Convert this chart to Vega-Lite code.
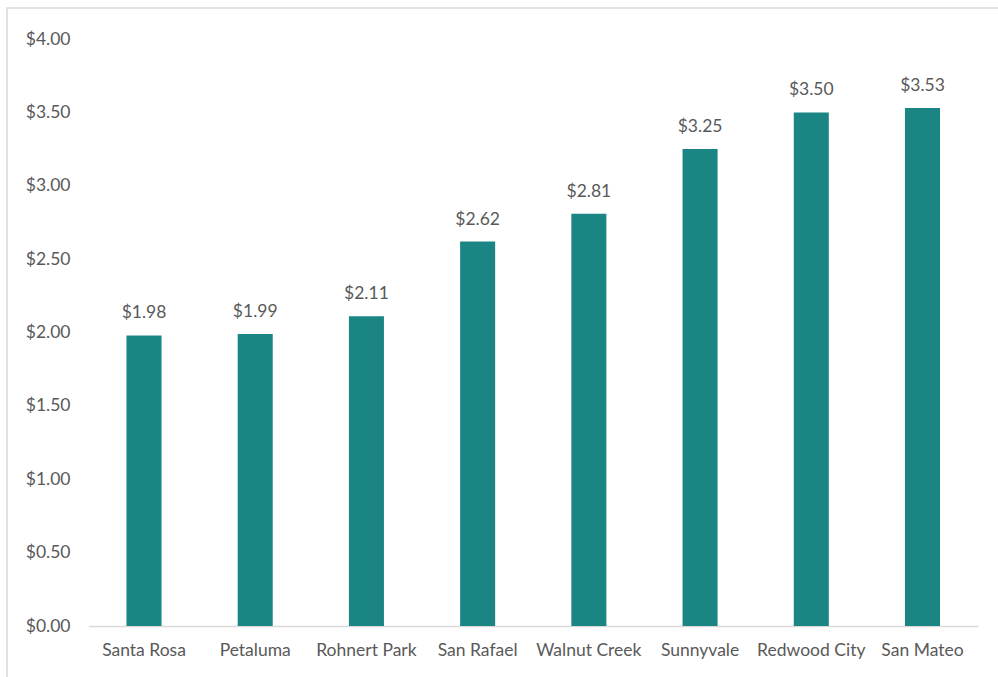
{
  "$schema": "https://vega.github.io/schema/vega-lite/v6.json",
  "autosize": "none",
  "width": 991,
  "height": 669,
  "padding": {"left": 7, "top": 8, "right": 0, "bottom": 0},
  "background": "white",
  "config": {
    "view": {"stroke": "#d9d9d9", "strokeWidth": 1.5, "strokeDash": [991, 1660, 669, 1000]},
    "font": "Lato",
    "axis": {"labelFont": "Lato", "labelFontSize": 17.5, "labelColor": "#595959", "grid": false, "ticks": false, "title": null}
  },
  "data": {
    "values": [
      {"city": "Santa Rosa", "price": 1.98},
      {"city": "Petaluma", "price": 1.99},
      {"city": "Rohnert Park", "price": 2.11},
      {"city": "San Rafael", "price": 2.62},
      {"city": "Walnut Creek", "price": 2.81},
      {"city": "Sunnyvale", "price": 3.25},
      {"city": "Redwood City", "price": 3.50},
      {"city": "San Mateo", "price": 3.53}
    ]
  },
  "encoding": {
    "x": {
      "field": "city", "type": "nominal", "sort": null,
      "scale": {"range": [81.4, 971.1], "paddingInner": 0.685, "paddingOuter": 0.3425},
      "axis": {"orient": "bottom", "offset": -51, "labelAngle": 0, "labelPadding": 15, "domainColor": "#d9d9d9", "domainWidth": 1.5}
    },
    "y": {
      "field": "price", "type": "quantitative",
      "scale": {"domain": [0, 4], "range": [618, 31], "nice": false},
      "axis": {"orient": "left", "offset": -70, "labelPadding": 7, "domain": false, "values": [0, 0.5, 1, 1.5, 2, 2.5, 3, 3.5, 4], "format": "$.2f"}
    }
  },
  "layer": [
    {"mark": {"type": "bar", "color": "#1a8583"}},
    {
      "mark": {"type": "text", "baseline": "bottom", "dy": -13, "fontSize": 17.5, "font": "Lato", "color": "#595959"},
      "encoding": {"text": {"field": "price", "type": "quantitative", "format": "$.2f"}}
    }
  ]
}
